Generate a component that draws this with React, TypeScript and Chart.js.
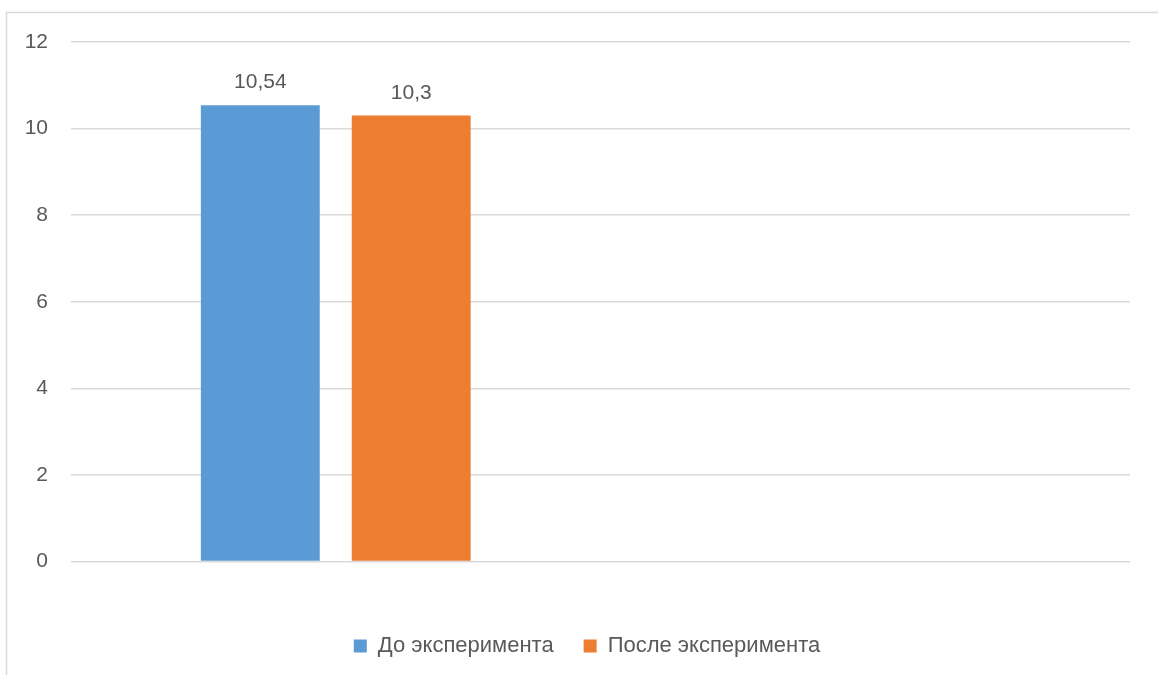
import React, { useEffect, useRef } from "react";
import { Chart, registerables } from "chart.js";

Chart.register(...registerables);

const categories = ["", ""];
const seriesNames = ["До эксперимента", "После эксперимента"];
const beforeValues: (number | null)[] = [10.54, null];
const afterValues: (number | null)[] = [10.3, null];
const yTicks = [0, 2, 4, 6, 8, 10, 12];

const FONT = "'Liberation Sans', Arial, sans-serif";
const TEXT = "#595959";
const GRID = "#d9d9d9";

const frame = {
  id: "frame",
  beforeDraw(chart: any) {
    const ctx = chart.ctx;
    ctx.save();
    ctx.fillStyle = "#ffffff";
    ctx.fillRect(0, 0, chart.width, chart.height);
    ctx.strokeStyle = GRID;
    ctx.lineWidth = 1.5;
    ctx.strokeRect(6.5, 12.5, chart.width + 20, chart.height + 20);
    ctx.restore();
  },
};

const legendShift = {
  id: "legendShift",
  afterLayout(chart: any) {
    const lg = chart.legend;
    if (lg) {
      lg.left += 22;
      lg.right += 22;
    }
  },
};

const valueLabels = {
  id: "valueLabels",
  afterDatasetsDraw(chart: any) {
    const ctx = chart.ctx;
    ctx.save();
    ctx.font = `21px ${FONT}`;
    ctx.fillStyle = TEXT;
    ctx.textAlign = "center";
    ctx.textBaseline = "alphabetic";
    chart.data.datasets.forEach((ds: any, di: number) => {
      const meta = chart.getDatasetMeta(di);
      meta.data.forEach((el: any, i: number) => {
        const v = ds.data[i];
        if (v === null || v === undefined) return;
        ctx.fillText(String(v).replace(".", ","), el.x, el.y - 17);
      });
    });
    ctx.restore();
  },
};

export default function App() {
  const ref = useRef<HTMLCanvasElement>(null);
  useEffect(() => {
    if (!ref.current) return;
    const chart = new Chart(ref.current, {
      type: "bar",
      data: {
        labels: categories,
        datasets: [
          { label: seriesNames[0], data: beforeValues, backgroundColor: "#5B9BD5" },
          { label: seriesNames[1], data: afterValues, backgroundColor: "#ED7D31" },
        ],
      },
      options: {
        animation: false,
        responsive: false,
        devicePixelRatio: 1,
        datasets: { bar: { categoryPercentage: 0.57, barPercentage: 0.788 } },
        layout: { padding: { left: 0, right: 28, top: 42, bottom: 8 } },
        plugins: {
          legend: {
            position: "bottom",
            labels: {
              boxWidth: 13,
              boxHeight: 13,
              padding: 30,
              color: TEXT,
              font: { size: 22, family: FONT },
            },
          },
          tooltip: { enabled: false },
          title: { display: false },
        },
        scales: {
          x: {
            grid: { display: false },
            border: { display: false },
            ticks: { display: false },
            afterFit: (s: any) => {
              s.height = 43.5;
            },
          },
          y: {
            min: 0,
            max: 12,
            afterBuildTicks: (s: any) => {
              s.ticks = yTicks.map((v) => ({ value: v }));
            },
            grid: { color: GRID, lineWidth: 1.5, drawTicks: false },
            border: { display: false },
            ticks: {
              padding: 23,
              color: TEXT,
              font: { size: 21, family: FONT },
            },
            afterFit: (s: any) => {
              s.width = 71;
            },
          },
        },
      },
      plugins: [frame, legendShift, valueLabels],
    });
    return () => chart.destroy();
  }, []);
  return (
    <div style={{ position: "absolute", left: 0, top: 0, width: 1158, height: 675 }}>
      <canvas ref={ref} width={1158} height={675} />
    </div>
  );
}
